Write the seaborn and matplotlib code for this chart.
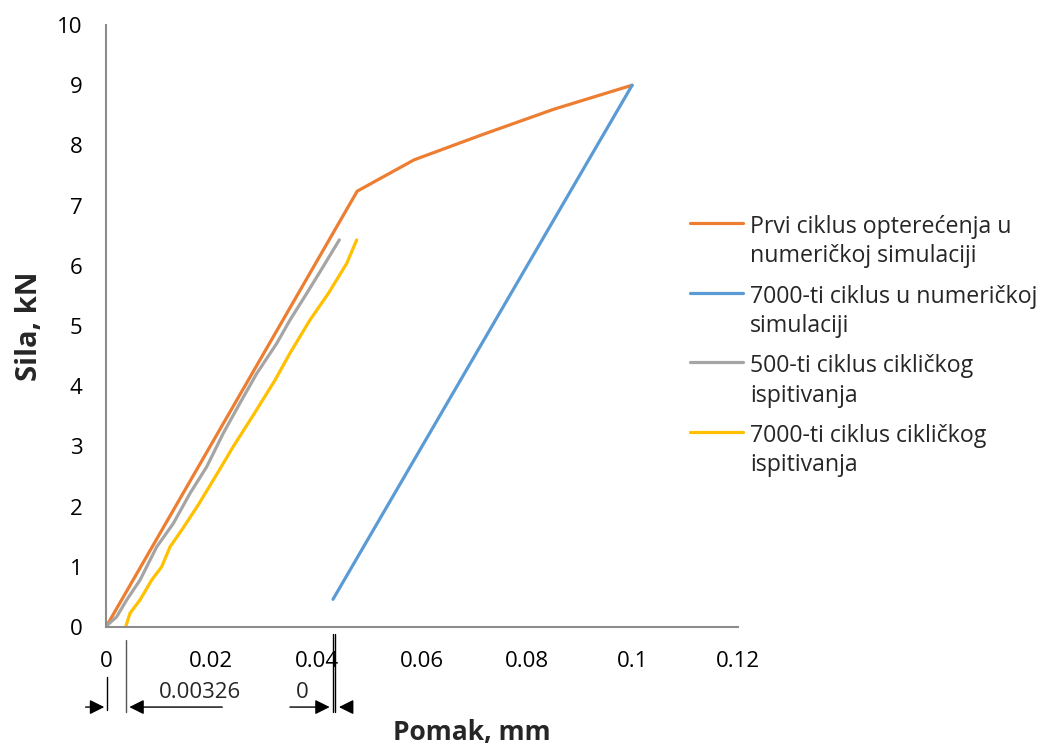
import numpy as np
import pandas as pd
import matplotlib
matplotlib.use("Agg")
import matplotlib.pyplot as plt
import seaborn as sns

# očitane vrijednosti s dijagrama (pomak u mm, sila u kN)
num1_x = [0.0, 0.0477, 0.0585, 0.0715, 0.085, 0.0999]
num1_y = [0.0, 7.24, 7.76, 8.18, 8.6, 9.0]

num7000_x = [0.0999, 0.0431]
num7000_y = [9.0, 0.46]

isp500_x = [0.00013, 0.00203, 0.00393, 0.00646, 0.00962, 0.01278, 0.01595, 0.01911,
            0.02228, 0.02544, 0.02861, 0.03241, 0.03494, 0.0381, 0.04126, 0.0443]
isp500_y = [0.02, 0.17, 0.45, 0.78, 1.33, 1.72, 2.22, 2.66,
            3.22, 3.72, 4.21, 4.71, 5.10, 5.54, 5.99, 6.43]

isp7000_x = [0.0038, 0.00456, 0.00646, 0.00867, 0.01057, 0.01215, 0.01437, 0.01753,
             0.02133, 0.02418, 0.02797, 0.03209, 0.03494, 0.03873, 0.04221, 0.0457, 0.0476]
isp7000_y = [0.02, 0.23, 0.45, 0.78, 1.00, 1.33, 1.61, 2.03,
             2.58, 3.00, 3.52, 4.10, 4.55, 5.10, 5.54, 6.04, 6.43]

labels = ["Prvi ciklus opterećenja u\nnumeričkoj simulaciji",
          "7000-ti ciklus u numeričkoj\nsimulaciji",
          "500-ti ciklus cikličkog\nispitivanja",
          "7000-ti ciklus cikličkog\nispitivanja"]
colors = ["#ED7D31", "#5B9BD5", "#A5A5A5", "#FFC000"]

x_ticks = [0, 0.02, 0.04, 0.06, 0.08, 0.1, 0.12]
x_tick_labels = ["0", "0.02", "0.04", "0.06", "0.08", "0.1", "0.12"]
y_ticks = list(range(0, 11))

sns.set_style("white")
plt.rcParams['font.family'] = ['Open Sans', 'DejaVu Sans']

fig = plt.figure(figsize=(10.4, 7.49), dpi=100)
ax = fig.add_axes([106/1040, 122/749, 632/1040, 602/749])

series = [(num1_x, num1_y), (num7000_x, num7000_y), (isp500_x, isp500_y), (isp7000_x, isp7000_y)]
for (xs, ys), lab, c in zip(series, labels, colors):
    df = pd.DataFrame({"x": xs, "y": ys})
    sns.lineplot(data=df, x="x", y="y", sort=False, color=c, lw=2.3, label=lab, ax=ax,
                 solid_capstyle="round")

ax.set_xlim(0, 0.12)
ax.set_ylim(0, 10)
ax.set_xticks(x_ticks)
ax.set_xticklabels(x_tick_labels)
ax.set_yticks(y_ticks)
ax.tick_params(axis="both", direction="out", length=6, width=1.2, color="#8c8c8c",
               labelsize=16, labelcolor="black")
ax.tick_params(axis="y", pad=11)
ax.tick_params(axis="x", pad=11)
for s in ["top", "right"]:
    ax.spines[s].set_visible(False)
for s in ["left", "bottom"]:
    ax.spines[s].set_color("#8c8c8c")
    ax.spines[s].set_linewidth(1.5)

ax.set_ylabel("Sila, kN", fontsize=21, fontweight="bold")
ax.yaxis.set_label_coords(-0.098, 0.5)
ax.set_xlabel("Pomak, mm", fontsize=19, fontweight="bold")
ax.xaxis.set_label_coords(0.579, -0.152)

leg = ax.legend(loc="upper left", bbox_to_anchor=(690/1040, 1 - 215/749),
                bbox_transform=fig.transFigure, frameon=False, fontsize=16.7,
                handlelength=2.3, handletextpad=0.3, labelspacing=0.7,
                borderpad=0, borderaxespad=0)
for t in leg.get_texts():
    t.set_linespacing(1.3)
for col in leg._legend_handle_box.get_children():
    for row in col.get_children():
        row.align = "top"

# kotiranje ispod osi x
tr = ax.get_xaxis_transform()
arrow_kw = dict(arrowstyle="-|>", mutation_scale=22, color="black", lw=1.0)
ax.plot([0.0002, 0.0002], [-0.083, -0.138], transform=tr, color="black", lw=1, clip_on=False)
ax.plot([0.0038, 0.0038], [-0.022, -0.141], transform=tr, color="#555555", lw=1, clip_on=False)
ax.plot([0.0431, 0.0431], [-0.012, -0.141], transform=tr, color="black", lw=1, clip_on=False)
ax.plot([0.0435, 0.0435], [-0.012, -0.141], transform=tr, color="black", lw=1, clip_on=False)
ax.annotate("", xy=(0.0002, -0.133), xytext=(-0.0044, -0.133), xycoords=tr, textcoords=tr,
            arrowprops=arrow_kw, annotation_clip=False)
ax.annotate("", xy=(0.0039, -0.133), xytext=(0.0226, -0.133), xycoords=tr, textcoords=tr,
            arrowprops=arrow_kw, annotation_clip=False)
ax.annotate("", xy=(0.0430, -0.133), xytext=(0.0344, -0.133), xycoords=tr, textcoords=tr,
            arrowprops=arrow_kw, annotation_clip=False)
ax.annotate("", xy=(0.0437, -0.133), xytext=(0.0473, -0.133), xycoords=tr, textcoords=tr,
            arrowprops=arrow_kw, annotation_clip=False)
ax.text(0.0178, -0.108, "0.00326", transform=tr, fontsize=16, ha="center", va="center")
ax.text(0.0373, -0.108, "0", transform=tr, fontsize=16, ha="center", va="center")

fig.savefig("out.png", dpi=100)
